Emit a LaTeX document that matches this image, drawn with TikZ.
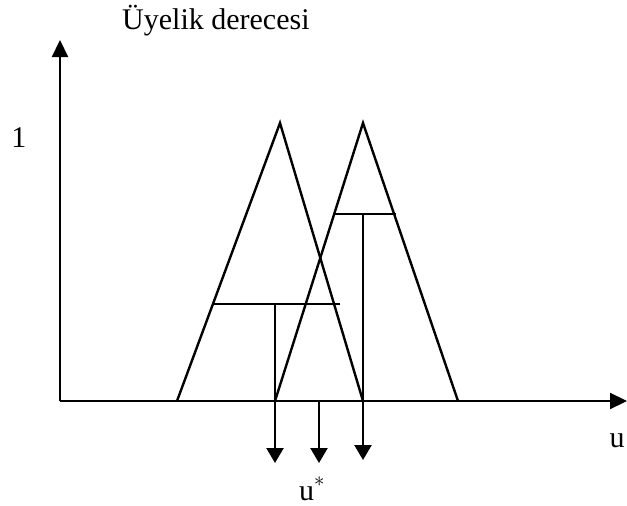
\documentclass[tikz,border=0pt]{standalone}
\usepackage{fontspec}
\setmainfont{Liberation Serif}
\usetikzlibrary{positioning, arrows.meta}

\begin{document}
\begin{tikzpicture}[
    x=1pt, y=-1pt,
    % -------------------------------------------------
    % Line styles
    % -------------------------------------------------
    axis/.style={
        line width=2.2pt,
        -{Triangle[length=17pt, width=16pt]}
    },
    member/.style={
        line width=2.4pt,
        line join=miter
    },
    cutline/.style={
        line width=2.2pt
    },
    droparrow/.style={
        line width=2.4pt,
        -{Triangle[length=15pt, width=17pt]}
    },
    % -------------------------------------------------
    % Labels
    % -------------------------------------------------
    axislabel/.style={
        font=\fontsize{30}{32}\selectfont,
        inner sep=0pt,
        anchor=base
    }
]

\useasboundingbox (0,0) rectangle (627,506);

% =====================================================
% Axes
% =====================================================

\coordinate (origin) at (60,401);
\coordinate (ytip) at (60,40);
\coordinate (xtip) at (627,401);

\draw[axis] (origin) -- (ytip);
\draw[axis] (origin) -- (xtip);

\node[axislabel, anchor=base west] (ylabel) at (122,29) {Üyelik derecesi};
\node[axislabel] (one) at (19,147) {1};
\node[axislabel] (xlabel) at (617,447) {u};

% =====================================================
% Membership triangles
% =====================================================

\coordinate (a1) at (177,401);
\coordinate (b1) at (280,123);
\coordinate (c1) at (363,401);

\coordinate (a2) at (275,401);
\coordinate (b2) at (363,123);
\coordinate (c2) at (458,401);

\draw[member] (a1) -- (b1) -- (c1);
\draw[member] (a2) -- (b2) -- (c2);

% =====================================================
% Cut levels
% =====================================================

\coordinate (cut1l) at (213,304);
\coordinate (cut1r) at (340,304);
\coordinate (cut1m) at (275,304);

\coordinate (cut2l) at (335,214);
\coordinate (cut2r) at (396,214);
\coordinate (cut2m) at (363,214);

\draw[cutline] (cut1l) -- (cut1r);
\draw[cutline] (cut2l) -- (cut2r);

% =====================================================
% Projections onto u
% =====================================================

\coordinate (drop1) at (275,463);
\coordinate (drop2) at (363,460);
\coordinate (ustart) at (319,401);
\coordinate (ustar) at (319,463);

\draw[droparrow] (cut1m) -- (drop1);
\draw[droparrow] (cut2m) -- (drop2);
\draw[droparrow] (ustart) -- (ustar);

\node[axislabel] (ustarlabel) at (312,500) {u\raisebox{4pt}{$^{*}$}};

\end{tikzpicture}
\end{document}
